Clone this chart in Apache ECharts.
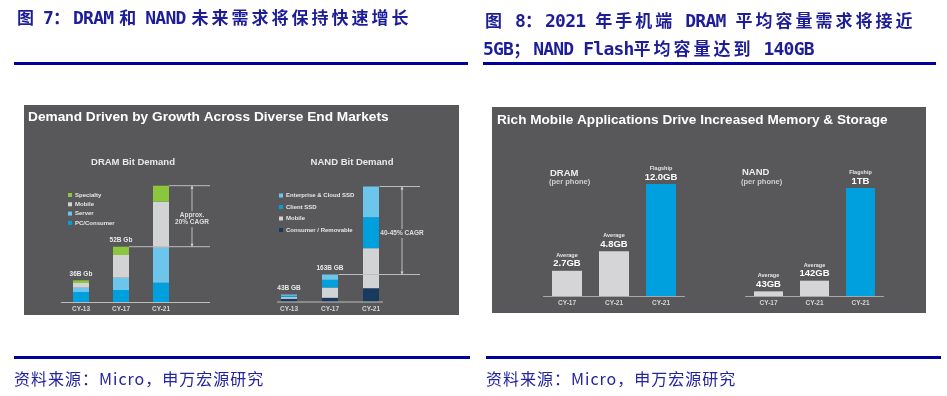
<!DOCTYPE html>
<html>
<head>
<meta charset="utf-8">
<script src="https://cdn.jsdelivr.net/npm/echarts@6/dist/echarts.min.js"></script>
<style>
html, body { margin: 0; padding: 0; background: #fff; }
#wrap { position: relative; width: 947px; height: 396px; overflow: hidden; }
#chart { position: absolute; left: 0; top: 0; width: 947px; height: 396px; }
.cap { position: absolute; color: #1d1d98; font-family: "Noto Sans CJK SC"; font-weight: bold;
  font-size: 17px; letter-spacing: 3px; white-space: nowrap; line-height: 28px; height: 28px; }
.cap .l { font-family: "DejaVu Sans Mono"; font-size: 18px; letter-spacing: -0.8px; line-height: 28px; }
.cap.tight .l { word-spacing: -4px; }
.rule { position: absolute; height: 3px; background: #00009a; }
.src { position: absolute; color: #2323a0; font-family: "Noto Sans CJK SC"; font-size: 16px;
  letter-spacing: 1px; white-space: nowrap; line-height: 20px; }
</style>
</head>
<body>
<div id="wrap">
  <div id="chart"></div>
  <div class="cap tight" style="left:17px;top:3px;">图<span class="l"> 7</span>：<span class="l">DRAM </span>和<span class="l"> NAND </span>未来需求将保持快速增长</div>
  <div class="cap" style="left:485px;top:6px;">图<span class="l"> 8</span>：<span class="l">2021 </span>年手机端<span class="l"> DRAM </span>平均容量需求将接近</div>
  <div class="cap" style="left:483px;top:34px;"><span class="l">5GB</span>；<span class="l">NAND Flash</span>平均容量达到<span class="l"> 140GB</span></div>
  <div class="rule" style="left:14px;top:62px;width:454px;"></div>
  <div class="rule" style="left:483px;top:62px;width:453px;"></div>
  <div class="rule" style="left:14px;top:356px;width:456px;"></div>
  <div class="rule" style="left:486px;top:356px;width:455px;"></div>
  <div class="src" style="left:14px;top:368px;">资料来源：Micro，申万宏源研究</div>
  <div class="src" style="left:486px;top:368px;">资料来源：Micro，申万宏源研究</div>
</div>
<script>
// DRAM bit demand (segment heights, relative units)
var dramCats = ['CY-13', 'CY-17', 'CY-21'];
var dramPc = [10, 12, 19.3];
var dramServer = [4.3, 12.3, 35];
var dramMobile = [4.7, 22.7, 46];
var dramSpecialty = [2.7, 8.3, 16];
var dramTotalLabels = ['36B Gb', '52B Gb', ''];

// NAND bit demand
var nandCats = ['CY-13', 'CY-17', 'CY-21'];
var nandConsumer = [2.7, 3.7, 13.3];
var nandMobile = [1.7, 10.3, 40];
var nandClient = [1.3, 7.7, 31];
var nandEnterprise = [1.3, 5.3, 30.7];
var nandTotalLabels = ['43B GB', '163B GB', ''];

// per phone content
var phoneCats = ['CY-17', 'CY-21', 'CY-21'];
var phoneTags = ['Average', 'Average', 'Flagship'];
var dramPhone = [2.7, 4.8, 12.0];
var dramPhoneLabels = ['2.7GB', '4.8GB', '12.0GB'];
var nandPhone = [43, 142, 1000];
var nandPhoneLabels = ['43GB', '142GB', '1TB'];

var BRIGHT = '#00a0df', LIGHT = '#6cc6ec', GRAY = '#d2d3d5', GREEN = '#8cc63f', NAVY = '#173a5e';
var PANEL = '#58585a';
var FONT = '"Liberation Sans", Arial, sans-serif';

var chart = echarts.init(document.getElementById('chart'));

function catAxis(idx, data) {
  return {
    type: 'category', gridIndex: idx, data: data,
    axisLine: { show: idx >= 2, lineStyle: { color: '#a8a8a8', width: 1 } },
    axisTick: { show: false },
    axisLabel: { color: '#d6d6d6', fontSize: 6.5, fontWeight: 'bold', fontFamily: FONT, margin: 4 }
  };
}
function valAxis(idx, max) {
  return { type: 'value', gridIndex: idx, min: 0, max: max, show: false };
}
function stackBar(name, idx, data, color, stack, labels) {
  var s = {
    name: name, type: 'bar', stack: stack, xAxisIndex: idx, yAxisIndex: idx,
    data: data, barWidth: 16, itemStyle: { color: color }
  };
  if (labels) {
    s.label = {
      show: true, position: 'top', distance: 3, color: '#e8e8e8',
      fontSize: 6.5, fontWeight: 'bold', fontFamily: FONT,
      formatter: function (p) { return labels[p.dataIndex]; }
    };
  }
  return s;
}
function phoneBar(idx, data, labels, width) {
  return {
    type: 'bar', xAxisIndex: idx, yAxisIndex: idx, data: data, barWidth: width,
    itemStyle: { color: function (p) { return phoneTags[p.dataIndex] === 'Flagship' ? BRIGHT : '#d5d5d7'; } },
    label: {
      show: true, position: 'top', distance: 2, fontFamily: FONT,
      formatter: function (p) { return '{t|' + phoneTags[p.dataIndex] + '}\n{v|' + labels[p.dataIndex] + '}'; },
      rich: {
        t: { fontSize: 5.5, color: '#e6e6e6', fontWeight: 'bold', lineHeight: 7, fontFamily: FONT },
        v: { fontSize: 9.5, color: '#ffffff', fontWeight: 'bold', lineHeight: 10, fontFamily: FONT }
      }
    }
  };
}

var legendText = { color: '#e6e6e6', fontSize: 6, fontWeight: 'bold', fontFamily: FONT, padding: [0, 0, 0, -2] };

chart.setOption({
  animation: false,
  grid: [
    { left: 61, top: 182, width: 120, height: 120 },
    { left: 268.5, top: 181.5, width: 123, height: 120 },
    { left: 543.5, top: 184, width: 141, height: 112 },
    { left: 745.5, top: 188, width: 138, height: 108 }
  ],
  xAxis: [catAxis(0, dramCats), catAxis(1, nandCats), catAxis(2, phoneCats), catAxis(3, phoneCats)],
  yAxis: [valAxis(0, 120), valAxis(1, 120), valAxis(2, 12), valAxis(3, 1000)],
  legend: [
    {
      data: ['Specialty', 'Mobile', 'Server', 'PC/Consumer'],
      orient: 'vertical', left: 68, top: 192, padding: 0, itemGap: 3.3,
      itemWidth: 4, itemHeight: 4, icon: 'rect', selectedMode: false, textStyle: legendText
    },
    {
      data: ['Enterprise & Cloud SSD', 'Client SSD', 'Mobile', 'Consumer / Removable'],
      orient: 'vertical', left: 279, top: 192.5, padding: 0, itemGap: 5.5,
      itemWidth: 4, itemHeight: 4, icon: 'rect', selectedMode: false, textStyle: legendText
    }
  ],
  series: [
    stackBar('PC/Consumer', 0, dramPc, BRIGHT, 'dram'),
    stackBar('Server', 0, dramServer, LIGHT, 'dram'),
    stackBar('Mobile', 0, dramMobile, GRAY, 'dram'),
    stackBar('Specialty', 0, dramSpecialty, GREEN, 'dram', dramTotalLabels),
    stackBar('Consumer / Removable', 1, nandConsumer, NAVY, 'nand'),
    stackBar('Mobile', 1, nandMobile, GRAY, 'nand'),
    stackBar('Client SSD', 1, nandClient, BRIGHT, 'nand'),
    stackBar('Enterprise & Cloud SSD', 1, nandEnterprise, LIGHT, 'nand', nandTotalLabels),
    phoneBar(2, dramPhone, dramPhoneLabels, 30),
    phoneBar(3, nandPhone, nandPhoneLabels, 29)
  ]
});

function sum(arrs, i) {
  var t = 0;
  arrs.forEach(function (a) { t += a[i]; });
  return t;
}
function txt(text, x, y, size, color, align, bold) {
  return {
    type: 'text', z: 10, style: {
      text: text, x: x, y: y, fill: color, textAlign: align || 'left', textVerticalAlign: 'middle',
      font: (bold === false ? '' : 'bold ') + size + 'px ' + FONT
    }
  };
}
function line(x1, y1, x2, y2) {
  return { type: 'line', z: 5, shape: { x1: x1, y1: y1, x2: x2, y2: y2 }, style: { stroke: '#bdbdbd', lineWidth: 1 } };
}

// growth bracket between the CY-17 and CY-21 stack tops
function bracket(gridIndex, series, halfBar, text) {
  var base = chart.convertToPixel({ gridIndex: gridIndex }, [0, 0]);
  var top21 = chart.convertToPixel({ gridIndex: gridIndex }, [2, sum(series, 2)]);
  var top17 = chart.convertToPixel({ gridIndex: gridIndex }, [1, sum(series, 1)]);
  var right = top21[0] + 49;
  var vx = top21[0] + 31;
  var out = [
    line(top21[0] + halfBar, top21[1], right, top21[1]),
    line(top17[0] + halfBar, top17[1], right, top17[1]),
    line(vx, top21[1], vx, top17[1]),
    { type: 'polygon', z: 6, shape: { points: [[vx - 1.5, top21[1] + 3], [vx + 1.5, top21[1] + 3], [vx, top21[1]]] }, style: { fill: '#d0d0d0' } },
    { type: 'polygon', z: 6, shape: { points: [[vx - 1.5, top17[1] - 3], [vx + 1.5, top17[1] - 3], [vx, top17[1]]] }, style: { fill: '#d0d0d0' } }
  ];
  var t = txt(text, vx, (top21[1] + top17[1]) / 2 + 3, 6.5, '#dedede', 'center');
  t.style.backgroundColor = PANEL;
  t.style.padding = [1, 0];
  t.style.lineHeight = 7;
  t.z = 11;
  out.push(t);
  return { items: out, base: base, right: right };
}

var b1 = bracket(0, [dramPc, dramServer, dramMobile, dramSpecialty], 8, 'Approx.\n20% CAGR');
var b2 = bracket(1, [nandConsumer, nandMobile, nandClient, nandEnterprise], 8.5, '40-45% CAGR');
var c13 = chart.convertToPixel({ gridIndex: 1 }, [0, 0]);
var c21 = chart.convertToPixel({ gridIndex: 1 }, [2, 0]);

var graphic = [
  { type: 'rect', z: -10, shape: { x: 24, y: 105, width: 435, height: 210 }, style: { fill: PANEL } },
  { type: 'rect', z: -10, shape: { x: 492, y: 107, width: 434, height: 206 }, style: { fill: PANEL } },
  txt('Demand Driven by Growth Across Diverse End Markets', 28, 117, 13.7, '#ffffff'),
  txt('DRAM Bit Demand', 133, 162, 9.5, '#e8e8e8', 'center'),
  txt('NAND Bit Demand', 352, 162, 9.5, '#e8e8e8', 'center'),
  txt('Rich Mobile Applications Drive Increased Memory & Storage', 497, 120, 13.6, '#ffffff'),
  txt('DRAM', 550, 173, 9.5, '#ececec'),
  txt('(per phone)', 549, 181.5, 7.5, '#cfcfcf'),
  txt('NAND', 742, 172, 9.5, '#ececec'),
  txt('(per phone)', 741, 182, 7.5, '#cfcfcf'),
  line(b1.base[0] - 20, b1.base[1] + 0.5, b1.right, b1.base[1] + 0.5),
  line(c13[0] - 12, c13[1] + 0.5, c21[0] + 12, c21[1] + 0.5)
].concat(b1.items, b2.items);

chart.setOption({ graphic: graphic });
</script>
</body>
</html>
